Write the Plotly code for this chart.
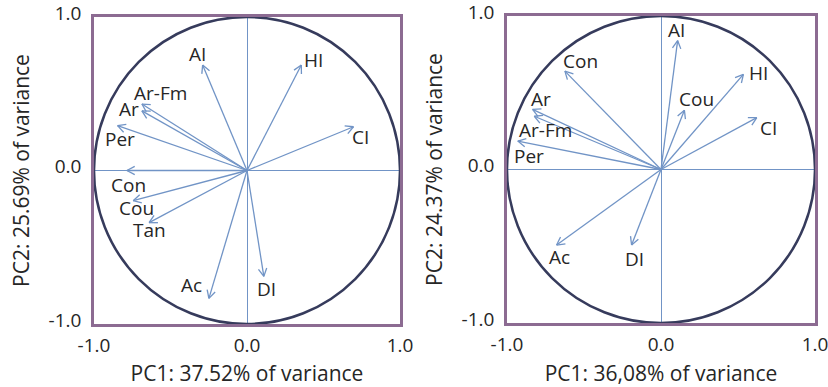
import numpy as np
import plotly.graph_objects as go

# ---- data (loadings) ----
left_vars = ["AI", "HI", "Ar-Fm", "Ar", "Per", "CI", "Con", "Cou", "Tan", "Ac", "DI"]
left_pc1 = [-0.29, 0.355, -0.687, -0.687, -0.846, 0.696, -0.785, -0.744, -0.64, -0.249, 0.11]
left_pc2 = [0.687, 0.687, 0.433, 0.388, 0.292, 0.285, 0.0, -0.197, -0.34, -0.833, -0.69]

right_vars = ["AI", "Con", "HI", "Cou", "Ar", "Ar-Fm", "Per", "CI", "Ac", "DI"]
right_pc1 = [0.108, -0.624, 0.535, 0.152, -0.834, -0.823, -0.93, 0.622, -0.678, -0.191]
right_pc2 = [0.84, 0.641, 0.62, 0.386, 0.392, 0.347, 0.185, 0.338, -0.492, -0.492]

left_xtitle = "PC1: 37.52% of variance"
left_ytitle = "PC2: 25.69% of variance"
right_xtitle = "PC1: 36,08% of variance"
right_ytitle = "PC2: 24.37% of variance"

tick_vals = [-1, 0, 1]
tick_text = ["-1.0", "0.0", "1.0"]

# ---- label offsets in pixels (dx right, dy down) : styling only ----
left_offsets = {"AI": (-5, -11), "HI": (12, -5), "Ar-Fm": (19, -11), "Ar": (-13, -2),
                "Per": (2, 13), "CI": (7, 10), "Con": (2, 14), "Cou": (3, 7),
                "Tan": (0, 7), "Ac": (-17, -13), "DI": (3, 13)}
right_offsets = {"AI": (-1, -11), "Con": (16, -10), "HI": (15, -1), "Cou": (12, -11),
                 "Ar": (8, -10), "Ar-Fm": (11, 14), "Per": (11, 15), "CI": (12, 10),
                 "Ac": (3, 12), "DI": (3, 14)}

ARROW = "#7194c6"
CIRCLE = "#363b5c"
BOX = "#8c6b92"
TEXT = "#262626"
FONT = "Open Sans"

W, H = 828, 387


def xdom(a, b):
    return [a / W, b / W]


def ydom(top, bottom):
    return [1 - bottom / H, 1 - top / H]


fig = go.Figure()


def arrows(xs, ys, xa, ya):
    px, py = [], []
    head = 0.058
    ang = np.deg2rad(28)
    for x, y in zip(xs, ys):
        theta = np.arctan2(y, x)
        px += [0, x, None]
        py += [0, y, None]
        for s in (1, -1):
            t = theta + np.pi + s * ang
            px += [x + head * np.cos(t), x, None]
            py += [y + head * np.sin(t), y, None]
    fig.add_trace(go.Scatter(x=px, y=py, mode="lines", xaxis=xa, yaxis=ya,
                             line=dict(color=ARROW, width=1.3), hoverinfo="skip",
                             showlegend=False))


arrows(left_pc1, left_pc2, "x", "y")
arrows(right_pc1, right_pc2, "x2", "y2")

annotations = []
for names, xs, ys, offs, xr, yr in [
    (left_vars, left_pc1, left_pc2, left_offsets, "x", "y"),
    (right_vars, right_pc1, right_pc2, right_offsets, "x2", "y2"),
]:
    for n, x, y in zip(names, xs, ys):
        dx, dy = offs[n]
        annotations.append(dict(x=x, y=y, xref=xr, yref=yr, text=n, showarrow=False,
                                xshift=dx, yshift=-dy,
                                font=dict(family=FONT, size=19, color=TEXT)))

shapes = []
for xr, yr in [("x", "y"), ("x2", "y2")]:
    shapes.append(dict(type="circle", xref=xr, yref=yr, x0=-1, y0=-1, x1=1, y1=1,
                       line=dict(color=CIRCLE, width=2.5)))

axis_common = dict(range=[-1, 1], showgrid=False, zeroline=True,
                   zerolinecolor=ARROW, zerolinewidth=1.2,
                   showline=True, mirror=True, linecolor=BOX, linewidth=2.5,
                   tickvals=tick_vals, ticktext=tick_text, ticks="",
                   tickfont=dict(family=FONT, size=19, color=TEXT),
                   ticklabeloverflow="allow",
                   fixedrange=True, automargin=False)

title_font = dict(family=FONT, size=21, color=TEXT)

fig.update_layout(
    width=W, height=H,
    margin=dict(l=0, r=0, t=0, b=0, autoexpand=False),
    paper_bgcolor="white", plot_bgcolor="white",
    xaxis=dict(domain=xdom(94, 400), anchor="y", ticklabelstandoff=2,
               title=dict(text=left_xtitle, font=title_font, standoff=11),
               **axis_common),
    yaxis=dict(domain=ydom(17, 324), anchor="x", ticklabelstandoff=6, ticklabelshift=-4,
               title=dict(text=left_ytitle, font=title_font, standoff=14),
               **axis_common),
    xaxis2=dict(domain=xdom(507, 815), anchor="y2", ticklabelstandoff=2,
                title=dict(text=right_xtitle, font=title_font, standoff=11),
                **axis_common),
    yaxis2=dict(domain=ydom(16, 323), anchor="x2", ticklabelstandoff=6, ticklabelshift=-4,
                title=dict(text=right_ytitle, font=title_font, standoff=14),
                **axis_common),
    annotations=annotations,
    shapes=shapes,
    showlegend=False,
)

fig.write_html("out.html", config={"displayModeBar": False},
               post_script="document.body.style.margin='0';")
